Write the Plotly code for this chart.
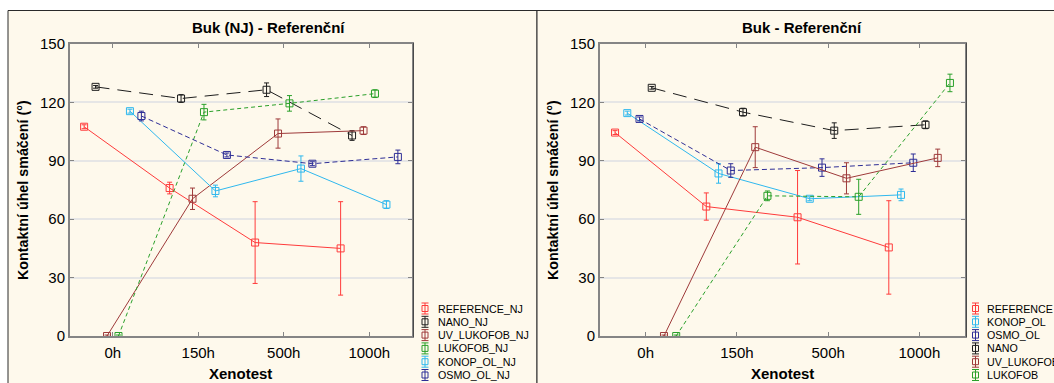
import plotly.graph_objects as go

# ---- data -------------------------------------------------------------
categories = ["0h", "150h", "500h", "1000h"]

# Panel 1: Buk (NJ) - Referenční
names_nj = ["REFERENCE_NJ", "NANO_NJ", "UV_LUKOFOB_NJ", "LUKOFOB_NJ", "KONOP_OL_NJ", "OSMO_OL_NJ"]
reference_nj = [107.5, 76.0, 48.0, 45.0]
reference_nj_err = [1.0, 3.0, 21.0, 24.0]
nano_nj = [128.0, 122.0, 126.5, 103.0]
nano_nj_err = [0.7, 2.0, 3.5, 2.5]
uv_lukofob_nj = [0.0, 70.5, 104.0, 105.5]
uv_lukofob_nj_err = [0.5, 5.5, 7.5, 2.0]
lukofob_nj = [0.0, 115.0, 119.5, 124.5]
lukofob_nj_err = [0.5, 4.0, 4.0, 2.0]
konop_ol_nj = [115.5, 74.5, 86.0, 67.5]
konop_ol_nj_err = [1.0, 3.0, 6.5, 2.0]
osmo_ol_nj = [113.0, 93.0, 88.5, 92.0]
osmo_ol_nj_err = [2.5, 1.0, 1.0, 3.5]

# Panel 2: Buk - Referenční
names_ref = ["REFERENCE", "KONOP_OL", "OSMO_OL", "NANO", "UV_LUKOFOB", "LUKOFOB"]
reference = [104.5, 66.5, 61.0, 45.5]
reference_err = [1.0, 7.0, 24.0, 24.0]
konop_ol = [114.5, 83.5, 70.5, 72.5]
konop_ol_err = [1.0, 5.0, 1.0, 3.0]
osmo_ol = [111.5, 85.0, 86.5, 89.0]
osmo_ol_err = [1.0, 3.5, 4.5, 4.5]
nano = [127.5, 115.0, 105.5, 108.5]
nano_err = [0.7, 2.0, 4.0, 2.0]
uv_lukofob = [0.0, 97.0, 81.0, 91.5]
uv_lukofob_err = [0.5, 10.5, 8.0, 4.5]
lukofob = [0.0, 72.0, 71.5, 130.0]
lukofob_err = [0.5, 2.5, 9.0, 4.5]

values_nj = [reference_nj, nano_nj, uv_lukofob_nj, lukofob_nj, konop_ol_nj, osmo_ol_nj]
errors_nj = [reference_nj_err, nano_nj_err, uv_lukofob_nj_err, lukofob_nj_err, konop_ol_nj_err, osmo_ol_nj_err]
values_ref = [reference, konop_ol, osmo_ol, nano, uv_lukofob, lukofob]
errors_ref = [reference_err, konop_ol_err, osmo_ol_err, nano_err, uv_lukofob_err, lukofob_err]

# ---- styles -----------------------------------------------------------
STYLE = {
    "REFERENCE": dict(color="#FF3B3B", dash="solid"),
    "NANO": dict(color="#1E1E1E", dash="14px,8px"),
    "UV_LUKOFOB": dict(color="#9E3A3A", dash="solid"),
    "LUKOFOB": dict(color="#2AA02A", dash="4px,3px"),
    "KONOP_OL": dict(color="#2FB8EE", dash="solid"),
    "OSMO_OL": dict(color="#2E2E96", dash="5px,3px"),
}

W, H = 1054, 383
FONT = "Liberation Sans, Arial, sans-serif"


def px(x):
    return x / W


def py(y):
    return 1 - y / H


def style_of(name):
    return STYLE[name.replace("_NJ", "")]


fig = go.Figure()


def add_panel(names, values, errors, xa, ya):
    n = len(names)
    for i, (name, vals, errs) in enumerate(zip(names, values, errors)):
        st = style_of(name)
        offset = (i - (n - 1) / 2) * 0.134
        xs = [k + offset for k in range(len(categories))]
        fig.add_trace(go.Scatter(
            x=xs, y=vals, name=name, mode="lines+markers",
            xaxis=xa, yaxis=ya, showlegend=False,
            line=dict(color=st["color"], width=1, dash=st["dash"]),
            marker=dict(symbol="square-open", size=7, color=st["color"],
                        line=dict(width=1, color=st["color"])),
            error_y=dict(type="data", array=errs, visible=True,
                         color=st["color"], thickness=1, width=2.5),
        ))


add_panel(names_nj, values_nj, errors_nj, "x", "y")
add_panel(names_ref, values_ref, errors_ref, "x2", "y2")

axis_common = dict(
    showline=True, linecolor="#858585", linewidth=2, mirror="ticks",
    ticks="inside", ticklen=4, tickcolor="#858585", tickwidth=1,
    tickfont=dict(family=FONT, size=15, color="#000"),
    zeroline=False, fixedrange=True, automargin=False,
)
xaxis_common = dict(
    axis_common, range=[-0.5, 3.5], tickmode="array",
    tickvals=list(range(len(categories))), ticktext=categories,
    showgrid=False, ticklabelstandoff=2,
)
yaxis_common = dict(
    axis_common, range=[0, 150], tickmode="linear", tick0=0, dtick=30,
    showgrid=True, gridcolor="#E6E6E6", gridwidth=2,
)

plot_top, plot_bottom = 44, 336
panels_x = [(70, 412), (600, 965)]

fig.update_layout(
    template="none",
    width=W, height=H,
    margin=dict(l=0, r=0, t=0, b=0, pad=0),
    paper_bgcolor="#FFFFFF", plot_bgcolor="#FFFFFF",
    showlegend=False,
    xaxis=dict(xaxis_common, domain=[px(panels_x[0][0]), px(panels_x[0][1])], anchor="y"),
    yaxis=dict(yaxis_common, domain=[py(plot_bottom), py(plot_top)], anchor="x"),
    xaxis2=dict(xaxis_common, domain=[px(panels_x[1][0]), px(panels_x[1][1])], anchor="y2"),
    yaxis2=dict(yaxis_common, domain=[py(plot_bottom), py(plot_top)], anchor="x2"),
)

shapes = []
annotations = []

# panel backgrounds and frames
CREAM = "#FEF9EC"
for x0, x1 in [(8, 537), (537, W + 5)]:
    shapes.append(dict(type="rect", xref="paper", yref="paper", layer="below",
                       x0=px(x0), x1=px(x1), y0=py(H + 5), y1=py(10.5),
                       fillcolor=CREAM, line=dict(color="#2A2A2A", width=1)))

# darker shadow edge on the right side of each plot frame
for _, x1 in panels_x:
    shapes.append(dict(type="line", xref="paper", yref="paper",
                       x0=px(x1 + 1.5), x1=px(x1 + 1.5), y0=py(plot_bottom + 1), y1=py(plot_top - 1),
                       line=dict(color="#4A4A4A", width=1)))

# titles
title_font = dict(family=FONT, size=15, color="#000")
for text, xc in [("<b>Buk (NJ) - Referenční</b>", 269), ("<b>Buk - Referenční</b>", 802)]:
    annotations.append(dict(text=text, x=px(xc), y=py(27), xref="paper", yref="paper",
                            showarrow=False, font=title_font, xanchor="center", yanchor="middle"))

# axis titles
for x0, x1 in panels_x:
    annotations.append(dict(text="<b>Xenotest</b>", x=px((x0 + x1) / 2), y=py(373),
                            xref="paper", yref="paper", showarrow=False, font=title_font,
                            xanchor="center", yanchor="middle"))
for xc in [23, 553]:
    annotations.append(dict(text="<b>Kontaktní úhel smáčení (°)</b>", x=px(xc), y=py(190),
                            xref="paper", yref="paper", textangle=-90, showarrow=False,
                            font=dict(family=FONT, size=14.3, color="#000"),
                            xanchor="center", yanchor="middle"))

# legends: error-bar style key symbol followed by the series name
def add_legend(names, sym_x, text_x, top_y, step):
    for i, name in enumerate(names):
        c = style_of(name)["color"]
        yc = top_y + i * step
        ln = dict(color=c, width=1)
        shapes.append(dict(type="line", xref="paper", yref="paper",
                           x0=px(sym_x), x1=px(sym_x), y0=py(yc - 5.5), y1=py(yc + 5.5), line=ln))
        for dy in (-5.5, 5.5):
            shapes.append(dict(type="line", xref="paper", yref="paper",
                               x0=px(sym_x - 3.5), x1=px(sym_x + 3.5), y0=py(yc + dy), y1=py(yc + dy), line=ln))
        shapes.append(dict(type="rect", xref="paper", yref="paper",
                           x0=px(sym_x - 3), x1=px(sym_x + 3), y0=py(yc + 3), y1=py(yc - 3),
                           line=ln, fillcolor="rgba(0,0,0,0)"))
        annotations.append(dict(text=name, x=px(text_x), y=py(yc), xref="paper", yref="paper",
                                showarrow=False, xanchor="left", yanchor="middle",
                                font=dict(family=FONT, size=10.7, color="#000")))


add_legend(names_nj, 425, 436, 308.5, 13.3)
add_legend(names_ref, 975.5, 985, 308.5, 13.3)

fig.update_layout(shapes=shapes, annotations=annotations)
fig.write_html("out.html")
